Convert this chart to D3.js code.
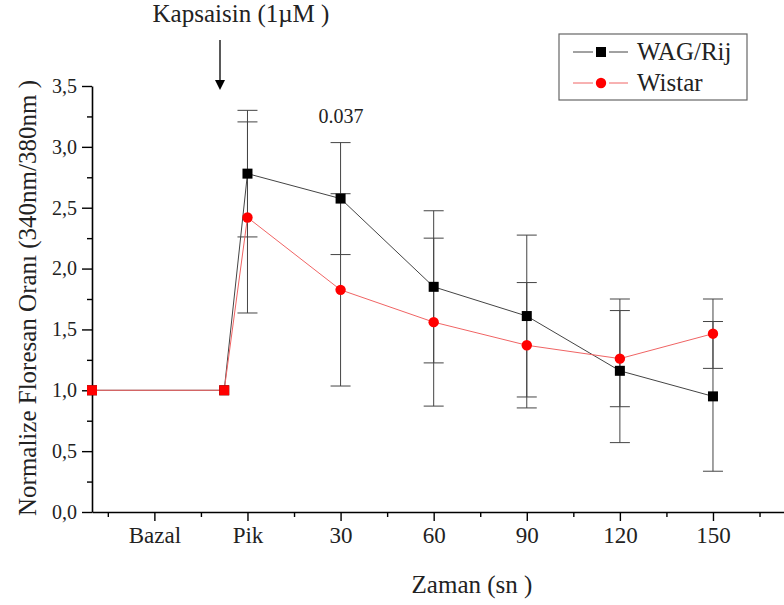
<!DOCTYPE html>
<html><head><meta charset="utf-8">
<script src="https://cdn.jsdelivr.net/npm/d3@7"></script>
<style>body{margin:0;background:#fff}svg{display:block}text{font-family:"Liberation Serif","Times New Roman",serif}</style>
</head><body><svg id="c" width="784" height="605"></svg>
<script>
const categories = ["Bazal","Pik","30","60","90","120","150"];
const catPos = [1,2,3,4,5,6,7];
const minorPos = [0.5,1.5,2.5,3.5,4.5,5.5,6.5,7.5];
const pointPos = [0.33,1.75,2,3,4,5,6,7];
const wagMean = [1.0,1.0,2.78,2.575,1.85,1.61,1.16,0.95];
const wagErr  = [null,null,0.52,0.46,0.625,0.665,0.59,0.615];
const wisMean = [1.0,1.0,2.42,1.825,1.56,1.37,1.26,1.465];
const wisErr  = [null,null,0.785,0.79,0.69,0.515,0.395,0.285];
const yTicks = [0,0.5,1,1.5,2,2.5,3,3.5];
const yMinor = [0.25,0.75,1.25,1.75,2.25,2.75,3.25];
const seriesNames = ["WAG/Rij","Wistar"];

const svg = d3.select("#c");
const x = d3.scaleLinear().domain([0.33,8]).range([92,92+7.67*93.1]);
const y = d3.scaleLinear().domain([0,3.5]).range([512,86]);

// axes
const fmt = d => d.toFixed(1).replace(".",",");
const gy = svg.append("g").attr("transform","translate(92,0)");
gy.call(d3.axisLeft(y).tickValues(yTicks).tickFormat(fmt).tickSize(10).tickSizeOuter(0).tickPadding(5));
svg.append("g").attr("transform","translate(92,0)")
  .call(d3.axisLeft(y).tickValues(yMinor).tickFormat("").tickSize(5).tickSizeOuter(0))
  .select(".domain").remove();
const gx = svg.append("g").attr("transform","translate(0,512)");
gx.call(d3.axisBottom(x).tickValues(catPos).tickFormat((d,i)=>categories[i]).tickSize(9).tickSizeOuter(0).tickPadding(6));
svg.append("g").attr("transform","translate(0,512)")
  .call(d3.axisBottom(x).tickValues(minorPos).tickFormat("").tickSize(5).tickSizeOuter(0))
  .select(".domain").remove();
svg.selectAll(".domain").attr("stroke","#000").attr("stroke-width",1.6);
svg.selectAll(".tick line").attr("stroke","#000").attr("stroke-width",1.4);
gy.selectAll("text").attr("font-size",20).attr("fill","#222").attr("font-family","Liberation Serif");
gx.selectAll("text").attr("font-size",23).attr("fill","#222").attr("font-family","Liberation Serif");

// titles
svg.append("text").attr("x",472).attr("y",593).attr("text-anchor","middle").attr("font-size",25).attr("fill","#222").text("Zaman (sn )");
svg.append("text").attr("transform","translate(36,298) rotate(-90)").attr("text-anchor","middle").attr("font-size",25).attr("fill","#222").text("Normalize Floresan Oranı (340nm/380nm )");

// error bars
function errBars(mean, err){
  const idx = d3.range(mean.length).filter(i=>err[i]!=null);
  const g = svg.append("g").attr("stroke","#444").attr("stroke-width",1);
  idx.forEach(i=>{
    const cx = x(pointPos[i]);
    g.append("line").attr("x1",cx).attr("x2",cx).attr("y1",y(mean[i]+err[i])).attr("y2",y(mean[i]-err[i]));
    [mean[i]+err[i],mean[i]-err[i]].forEach(v=>{
      g.append("line").attr("x1",cx-10).attr("x2",cx+10).attr("y1",y(v)).attr("y2",y(v));
    });
  });
}
errBars(wagMean,wagErr);
errBars(wisMean,wisErr);

const line = d3.line().x((d,i)=>x(pointPos[i])).y(d=>y(d));
svg.append("path").datum(wagMean).attr("d",line).attr("fill","none").attr("stroke","#444").attr("stroke-width",1);
svg.append("path").datum(wisMean).attr("d",line).attr("fill","none").attr("stroke","#f06464").attr("stroke-width",1);

svg.append("g").selectAll("rect").data(wagMean).join("rect")
  .attr("x",(d,i)=>x(pointPos[i])-5).attr("y",d=>y(d)-5).attr("width",10).attr("height",10).attr("fill","#000");
svg.append("g").selectAll("path").data(wisMean).join("path")
  .attr("transform",(d,i)=>`translate(${x(pointPos[i])},${y(d)})`)
  .attr("d",(d,i)=> i<2 ? d3.symbol(d3.symbolSquare,100)() : d3.symbol(d3.symbolCircle,85)())
  .attr("fill","#f00");

// annotations
svg.append("text").attr("x",241).attr("y",22).attr("text-anchor","middle").attr("font-size",25).attr("fill","#222").text("Kapsaisin (1µM )");
svg.append("line").attr("x1",220).attr("x2",220).attr("y1",40).attr("y2",82).attr("stroke","#000").attr("stroke-width",1.3);
svg.append("path").attr("d","M215,80 L225,80 L220,90 Z").attr("fill","#000");
svg.append("text").attr("x",341).attr("y",123).attr("text-anchor","middle").attr("font-size",20).attr("fill","#222").text("0.037");

// legend
const lg = svg.append("g");
lg.append("rect").attr("x",559).attr("y",34).attr("width",188).attr("height",66).attr("fill","#fff").attr("stroke","#666").attr("stroke-width",1.2);
const lgColors = [["#444","#000"],["#f06464","#f00"]];
seriesNames.forEach((n,i)=>{
  const yy = 52 + i*31;
  lg.append("line").attr("x1",573).attr("x2",628).attr("y1",yy).attr("y2",yy).attr("stroke",lgColors[i][0]).attr("stroke-width",1);
  lg.append("rect").attr("x",593).attr("y",yy-6).attr("width",16).attr("height",12).attr("fill","#fff");
  lg.append("path").attr("transform",`translate(601,${yy})`)
    .attr("d", i===0 ? d3.symbol(d3.symbolSquare,100)() : d3.symbol(d3.symbolCircle,85)()).attr("fill",lgColors[i][1]);
  lg.append("text").attr("x",637).attr("y",yy+8).attr("font-size",25).attr("fill","#222").text(n);
});
</script></body></html>
